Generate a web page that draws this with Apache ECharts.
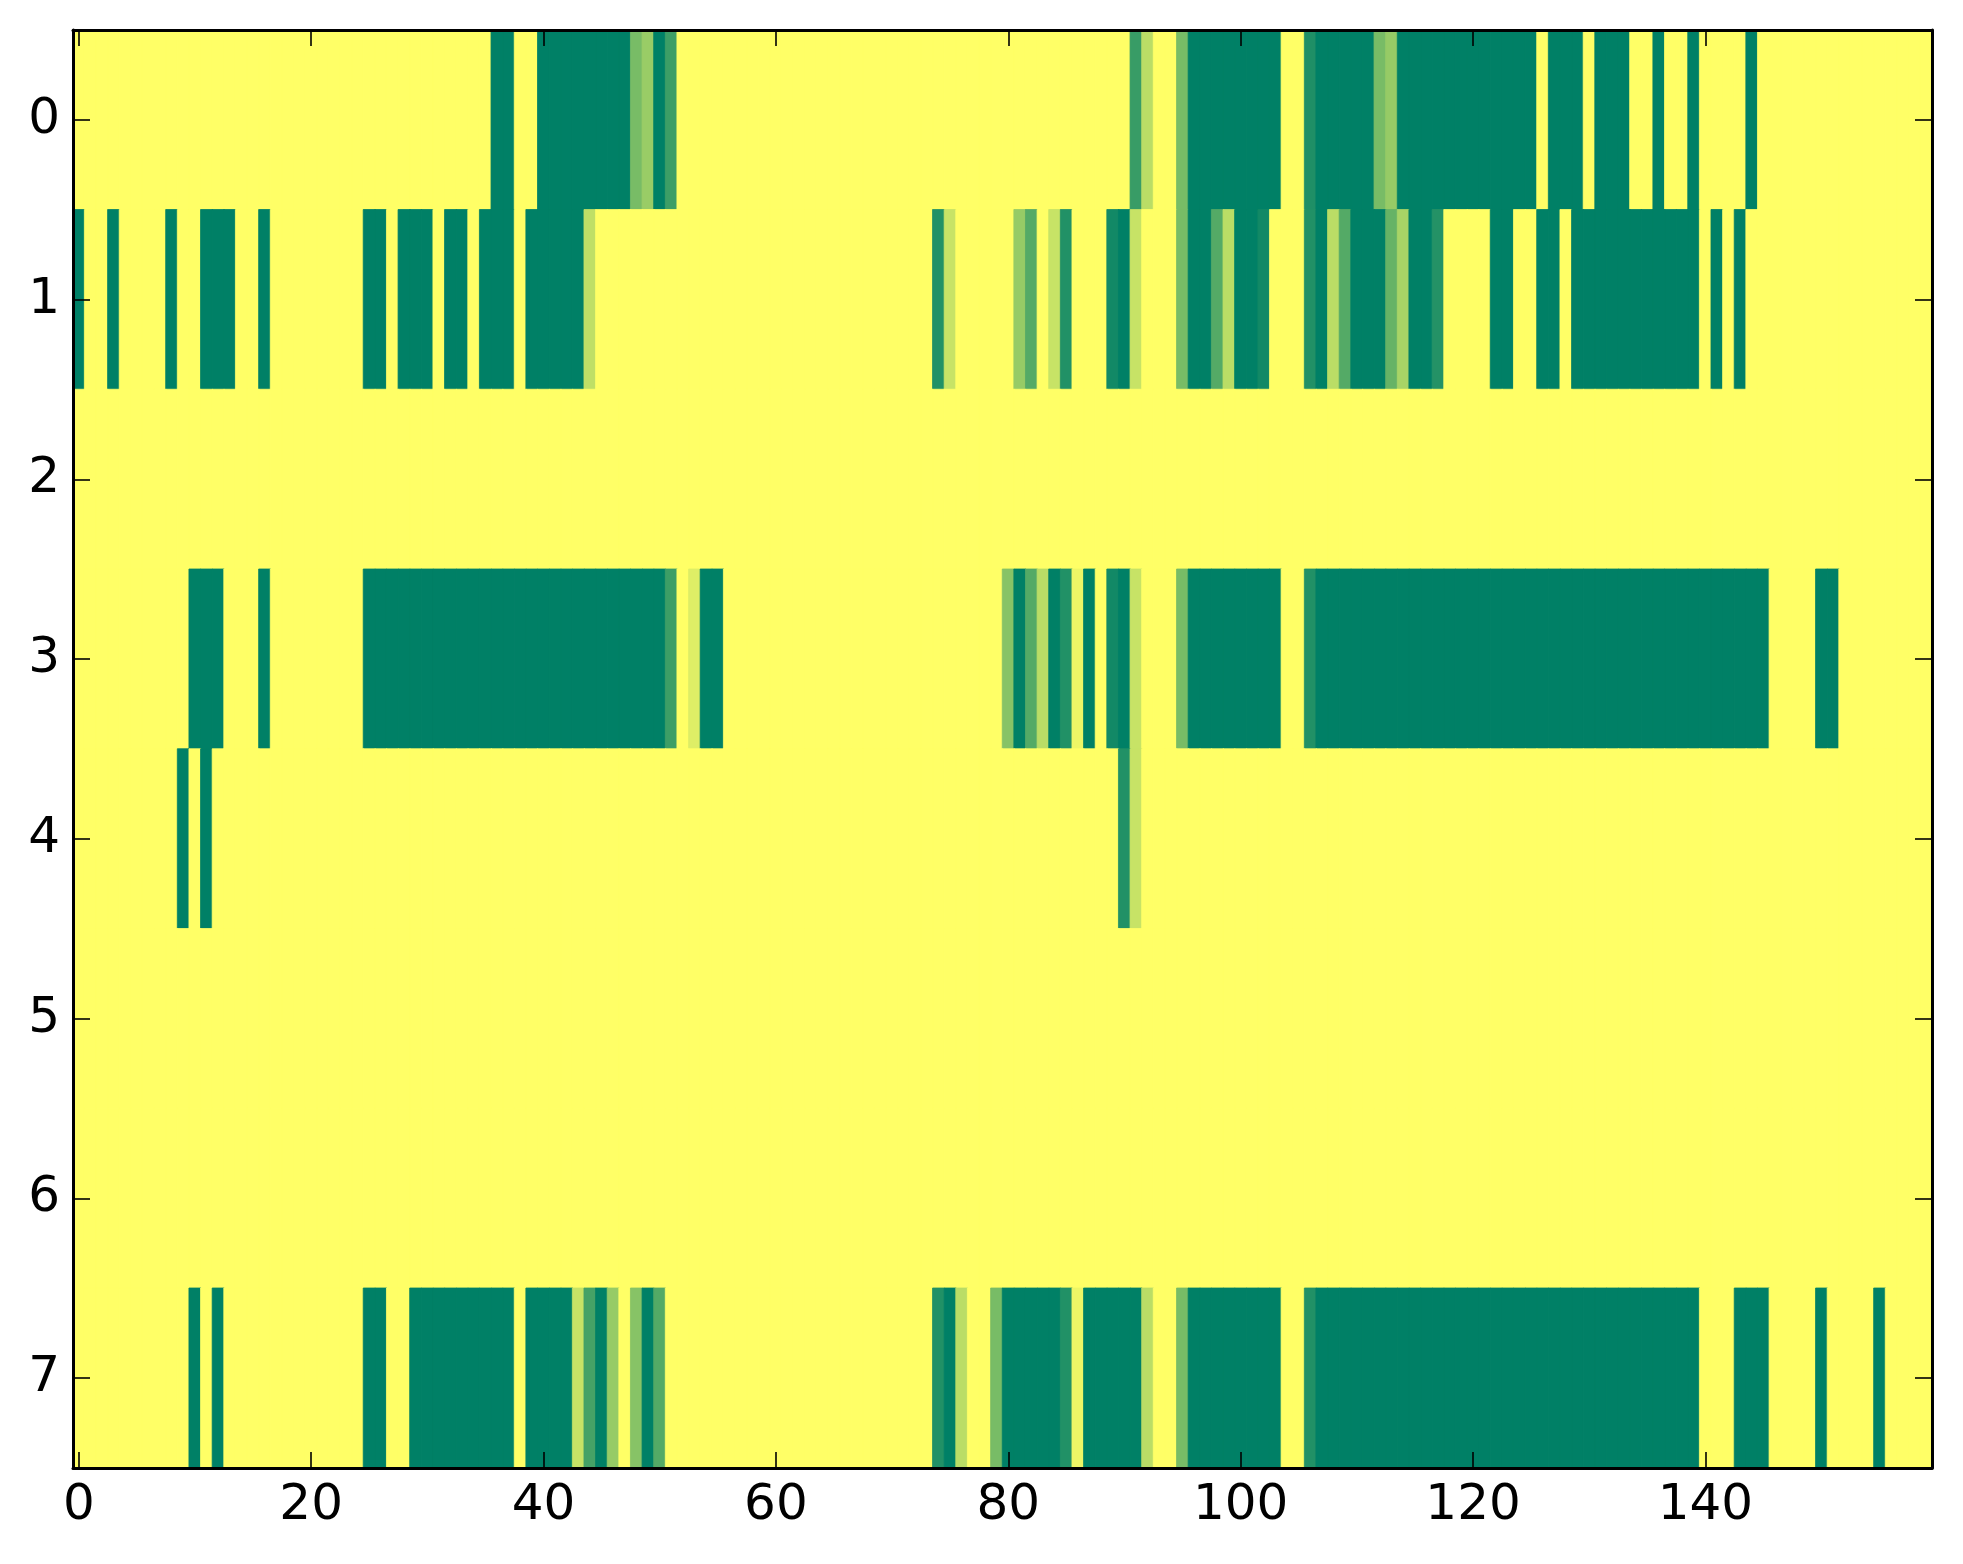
<!DOCTYPE html>
<html>
<head>
<meta charset="utf-8">
<script src="https://cdn.jsdelivr.net/npm/echarts@6/dist/echarts.min.js"></script>
<style>
html,body{margin:0;padding:0;background:#fff;}
#chart{width:1963px;height:1564px;}
</style>
</head>
<body>
<div id="chart"></div>
<script>
// Column categories (0..159) and row categories (0..7)
const xLabels = [];
for (let i = 0; i < 160; i++) xLabels.push(String(i));
const yLabels = ['0','1','2','3','4','5','6','7'];

// Cell values per row (0 = dark green, 1 = yellow)
const row0 = [
1,1,1,1,1,1,1,1,1,1,1,1,1,1,1,1,1,1,1,1,
1,1,1,1,1,1,1,1,1,1,1,1,1,1,1,1,0,0,1,1,
0,0,0,0,0,0,0,0,.47,.6,0,.24,1,1,1,1,1,1,1,1,
1,1,1,1,1,1,1,1,1,1,1,1,1,1,1,1,1,1,1,1,
1,1,1,1,1,1,1,1,1,1,1,.22,.73,1,1,.47,0,0,0,0,
0,0,0,0,1,1,.12,0,0,0,0,0,.47,.59,0,0,0,0,0,0,
0,0,0,0,0,0,1,0,0,0,1,0,0,0,1,1,0,1,1,0,
1,1,1,1,0,1,1,1,1,1,1,1,1,1,1,1,1,1,1,1
];
const row1 = [
0,1,1,0,1,1,1,1,0,1,1,0,0,0,1,1,0,1,1,1,
1,1,1,1,1,0,0,1,0,0,0,1,0,0,1,0,0,0,1,0,
0,0,0,0,.75,1,1,1,1,1,1,1,1,1,1,1,1,1,1,1,
1,1,1,1,1,1,1,1,1,1,1,1,1,1,.13,.78,1,1,1,1,
1,.59,.33,1,.78,.13,1,1,1,.07,0,.78,1,1,1,.47,0,0,.33,.73,
0,0,.07,1,1,1,.13,0,.73,.33,0,0,0,.4,.66,0,0,.14,1,1,
1,1,0,0,1,1,0,0,1,0,0,0,0,0,0,0,0,0,0,0,
1,0,1,0,1,1,1,1,1,1,1,1,1,1,1,1,1,1,1,1
];
const row2 = [
1,1,1,1,1,1,1,1,1,1,1,1,1,1,1,1,1,1,1,1,
1,1,1,1,1,1,1,1,1,1,1,1,1,1,1,1,1,1,1,1,
1,1,1,1,1,1,1,1,1,1,1,1,1,1,1,1,1,1,1,1,
1,1,1,1,1,1,1,1,1,1,1,1,1,1,1,1,1,1,1,1,
1,1,1,1,1,1,1,1,1,1,1,1,1,1,1,1,1,1,1,1,
1,1,1,1,1,1,1,1,1,1,1,1,1,1,1,1,1,1,1,1,
1,1,1,1,1,1,1,1,1,1,1,1,1,1,1,1,1,1,1,1,
1,1,1,1,1,1,1,1,1,1,1,1,1,1,1,1,1,1,1,1
];
const row3 = [
1,1,1,1,1,1,1,1,1,1,0,0,0,1,1,1,0,1,1,1,
1,1,1,1,1,0,0,0,0,0,0,0,0,0,0,0,0,0,0,0,
0,0,0,0,0,0,0,0,0,0,0,.24,1,.87,0,0,1,1,1,1,
1,1,1,1,1,1,1,1,1,1,1,1,1,1,1,1,1,1,1,1,
.53,0,.33,.73,0,.13,.93,0,1,.07,0,.78,1,1,1,.47,0,0,0,0,
0,0,0,0,1,1,.13,0,0,0,0,0,0,0,0,0,0,0,0,0,
0,0,0,0,0,0,0,0,0,0,0,0,0,0,0,0,0,0,0,0,
0,0,0,0,0,0,1,1,1,1,0,0,1,1,1,1,1,1,1,1
];
const row4 = [
1,1,1,1,1,1,1,1,1,0,1,0,1,1,1,1,1,1,1,1,
1,1,1,1,1,1,1,1,1,1,1,1,1,1,1,1,1,1,1,1,
1,1,1,1,1,1,1,1,1,1,1,1,1,1,1,1,1,1,1,1,
1,1,1,1,1,1,1,1,1,1,1,1,1,1,1,1,1,1,1,1,
1,1,1,1,1,1,1,1,1,1,.13,.78,1,1,1,1,1,1,1,1,
1,1,1,1,1,1,1,1,1,1,1,1,1,1,1,1,1,1,1,1,
1,1,1,1,1,1,1,1,1,1,1,1,1,1,1,1,1,1,1,1,
1,1,1,1,1,1,1,1,1,1,1,1,1,1,1,1,1,1,1,1
];
const row5 = [
1,1,1,1,1,1,1,1,1,1,1,1,1,1,1,1,1,1,1,1,
1,1,1,1,1,1,1,1,1,1,1,1,1,1,1,1,1,1,1,1,
1,1,1,1,1,1,1,1,1,1,1,1,1,1,1,1,1,1,1,1,
1,1,1,1,1,1,1,1,1,1,1,1,1,1,1,1,1,1,1,1,
1,1,1,1,1,1,1,1,1,1,1,1,1,1,1,1,1,1,1,1,
1,1,1,1,1,1,1,1,1,1,1,1,1,1,1,1,1,1,1,1,
1,1,1,1,1,1,1,1,1,1,1,1,1,1,1,1,1,1,1,1,
1,1,1,1,1,1,1,1,1,1,1,1,1,1,1,1,1,1,1,1
];
const row6 = [
1,1,1,1,1,1,1,1,1,1,1,1,1,1,1,1,1,1,1,1,
1,1,1,1,1,1,1,1,1,1,1,1,1,1,1,1,1,1,1,1,
1,1,1,1,1,1,1,1,1,1,1,1,1,1,1,1,1,1,1,1,
1,1,1,1,1,1,1,1,1,1,1,1,1,1,1,1,1,1,1,1,
1,1,1,1,1,1,1,1,1,1,1,1,1,1,1,1,1,1,1,1,
1,1,1,1,1,1,1,1,1,1,1,1,1,1,1,1,1,1,1,1,
1,1,1,1,1,1,1,1,1,1,1,1,1,1,1,1,1,1,1,1,
1,1,1,1,1,1,1,1,1,1,1,1,1,1,1,1,1,1,1,1
];
const row7 = [
1,1,1,1,1,1,1,1,1,1,0,1,0,1,1,1,1,1,1,1,
1,1,1,1,1,0,0,1,1,0,0,0,0,0,0,0,0,0,1,0,
0,0,0,.78,.27,0,.59,1,.53,0,.33,1,1,1,1,1,1,1,1,1,
1,1,1,1,1,1,1,1,1,1,1,1,1,1,.13,0,.73,1,1,.47,
0,0,0,0,0,.13,.93,0,0,0,0,0,.73,1,1,.47,0,0,0,0,
0,0,0,0,1,1,.13,0,0,0,0,0,0,0,0,0,0,0,0,0,
0,0,0,0,0,0,0,0,0,0,0,0,0,0,0,0,0,0,0,0,
1,1,1,0,0,0,1,1,1,1,0,1,1,1,1,0,1,1,1,1
];

const rows = [row0, row1, row2, row3, row4, row5, row6, row7];

// "summer" colormap, used only to give each cell a matching hairline border (hides seams)
function summer(v) {
  const r = Math.round(255 * v), g = Math.round(127.5 + 127.5 * v);
  return 'rgb(' + r + ',' + g + ',102)';
}
const cells = [];
rows.forEach((r, y) => r.forEach((v, x) => cells.push({
  value: [x, y, v],
  itemStyle: { borderColor: summer(v), borderWidth: 0.8 }
})));

const every20 = (i) => i % 20 === 0;
const FONT = 'DejaVu Sans';
const lineStyle = { color: '#000', width: 3 };
const tickStyle = { color: '#000', width: 1.6 };

const chart = echarts.init(document.getElementById('chart'), null, { renderer: 'canvas' });
chart.setOption({
  backgroundColor: '#ffffff',
  animation: false,
  grid: { left: 73, right: 31, top: 30, bottom: 96, containLabel: false },
  visualMap: {
    show: false, type: 'continuous', min: 0, max: 1, dimension: 2,
    inRange: { color: ['#008066', '#ffff66'] }
  },
  xAxis: [
    {
      type: 'category', data: xLabels, position: 'bottom', z: 10,
      axisLine: { show: true, lineStyle: lineStyle },
      axisTick: { show: true, inside: true, length: 16, alignWithLabel: true, interval: every20, lineStyle: tickStyle },
      axisLabel: { show: true, interval: every20, fontSize: 50, color: '#000', fontFamily: FONT, margin: 13 },
      splitLine: { show: false }
    },
    {
      type: 'category', data: xLabels, position: 'top', z: 10,
      axisLine: { show: true, lineStyle: lineStyle },
      axisTick: { show: true, inside: true, length: 16, alignWithLabel: true, interval: every20, lineStyle: tickStyle },
      axisLabel: { show: false },
      splitLine: { show: false }
    }
  ],
  yAxis: [
    {
      type: 'category', data: yLabels, inverse: true, position: 'left', z: 10,
      axisLine: { show: true, lineStyle: lineStyle },
      axisTick: { show: true, inside: true, length: 17, alignWithLabel: true, lineStyle: tickStyle },
      axisLabel: { show: true, fontSize: 50, color: '#000', fontFamily: FONT, margin: 13 },
      splitLine: { show: false }
    },
    {
      type: 'category', data: yLabels, inverse: true, position: 'right', z: 10,
      axisLine: { show: true, lineStyle: lineStyle },
      axisTick: { show: true, inside: true, length: 17, alignWithLabel: true, lineStyle: tickStyle },
      axisLabel: { show: false },
      splitLine: { show: false }
    }
  ],
  series: [{
    type: 'heatmap', xAxisIndex: 0, yAxisIndex: 0, data: cells,
    emphasis: { disabled: true }
  }]
});
</script>
</body>
</html>
